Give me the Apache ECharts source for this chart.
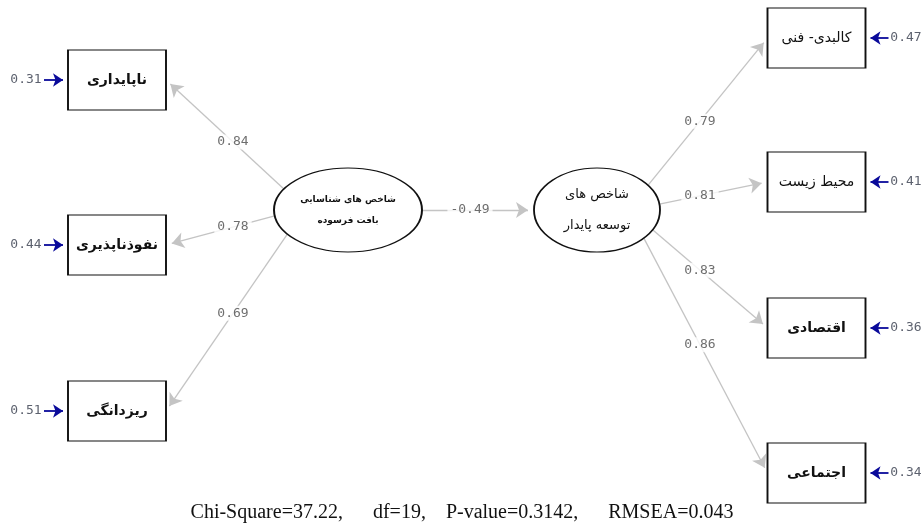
<!DOCTYPE html>
<html><head><meta charset="utf-8">
<script src="https://cdn.jsdelivr.net/npm/echarts@6/dist/echarts.min.js"></script>
<style>html,body{margin:0;padding:0;background:#fff}#c{width:924px;height:524px}</style>
</head><body><div id="c"></div>
<script>
// ---------- data ----------
const latentNames = ['شاخص های شناسایی\nبافت فرسوده', 'شاخص های\nتوسعه پایدار'];
const leftIndicators = ['ناپایداری', 'نفوذناپذیری', 'ریزدانگی'];
const leftLoadings = [0.84, 0.78, 0.69];
const leftErrors = [0.31, 0.44, 0.51];
const rightIndicators = ['کالبدی- فنی', 'محیط زیست', 'اقتصادی', 'اجتماعی'];
const rightLoadings = [0.79, 0.81, 0.83, 0.86];
const rightErrors = [0.47, 0.41, 0.36, 0.34];
const pathCoefficient = -0.49;
const fitText = 'Chi-Square=37.22,      df=19,    P-value=0.3142,      RMSEA=0.043';

// ---------- layout (diagram geometry, not data) ----------
const latentLayout = [
  { cx: 348, cy: 210, rx: 74, ry: 42, fontSize: 9, lineHeight: 21, pad: [0, 0, 0, 0] },
  { cx: 597, cy: 210, rx: 63, ry: 42, fontSize: 13, lineHeight: 31, pad: [5, 0, 0, 0] }
];
const boxW = 98, boxH = 60;
const leftLayout = { x: 117, ys: [80, 245, 411], angles: [210, 172, 145], labelX: 233, bold: [true, true, true], errX: 26 };
const rightLayout = { x: 816.5, ys: [38, 182, 328, 473], angles: [-36, -8, 28, 42], labelX: 700, bold: [false, false, true, true], errX: 906 };
const pathArrowSize = 12, errArrowSize = 10;

function ellipsePt(L, deg) {
  const a = deg * Math.PI / 180;
  return [L.cx + L.rx * Math.cos(a), L.cy + L.ry * Math.sin(a)];
}
function shorten(s, e, d) {
  const dx = e[0] - s[0], dy = e[1] - s[1], len = Math.hypot(dx, dy);
  return [e[0] - dx / len * d, e[1] - dy / len * d];
}
function atX(s, e, x) {
  const t = (x - s[0]) / (e[0] - s[0]);
  return [x, s[1] + t * (e[1] - s[1])];
}

const pathLines = [], coefLabels = [], errLines = [], errLabels = [], boxes = [];

function addSide(names, loads, errs, lay, side) {
  names.forEach((n, i) => {
    const y = lay.ys[i];
    const edgeX = side === 'L' ? lay.x + boxW / 2 : lay.x - boxW / 2;
    const s = ellipsePt(side === 'L' ? latentLayout[0] : latentLayout[1], lay.angles[i]);
    const e = [edgeX, y];
    pathLines.push({ coords: [s, shorten(s, e, pathArrowSize / 2)] });
    const lp = atX(s, e, lay.labelX);
    coefLabels.push([lp[0], lp[1], loads[i]]);
    boxes.push({ value: [lay.x, y], name: n, label: { fontWeight: lay.bold[i] ? 'bold' : 'normal' } });
    const outer = side === 'L' ? lay.x - boxW / 2 : lay.x + boxW / 2;
    const from = side === 'L' ? [outer - 24, y] : [outer + 23, y];
    const to = [outer, y];
    errLines.push({ coords: [from, shorten(from, to, errArrowSize / 2)] });
    errLabels.push([lay.errX, y, errs[i]]);
  });
}
addSide(leftIndicators, leftLoadings, leftErrors, leftLayout, 'L');
addSide(rightIndicators, rightLoadings, rightErrors, rightLayout, 'R');

const ps = ellipsePt(latentLayout[0], 0), pe = ellipsePt(latentLayout[1], 180);
pathLines.push({ coords: [ps, shorten(ps, pe, pathArrowSize / 2)] });
coefLabels.push([470, atX(ps, pe, 470)[1], pathCoefficient]);

const latents = latentNames.map((n, i) => ({
  value: [latentLayout[i].cx, latentLayout[i].cy], name: n,
  symbolSize: [latentLayout[i].rx * 2, latentLayout[i].ry * 2],
  label: { fontSize: latentLayout[i].fontSize, lineHeight: latentLayout[i].lineHeight, padding: latentLayout[i].pad, fontWeight: i === 0 ? 'bold' : 'normal' }
}));

const chart = echarts.init(document.getElementById('c'), null, { renderer: 'canvas' });
chart.setOption({
  animation: false,
  backgroundColor: '#fff',
  title: {
    text: fitText, left: 'center', top: 498,
    textStyle: { fontFamily: 'Liberation Serif', fontSize: 20, fontWeight: 'normal', color: '#111' }
  },
  grid: { left: 0, right: 0, top: 0, bottom: 0 },
  xAxis: { type: 'value', min: 0, max: 924, show: false },
  yAxis: { type: 'value', min: 0, max: 524, inverse: true, show: false },
  series: [
    {
      type: 'lines', coordinateSystem: 'cartesian2d', z: 1,
      symbol: ['none', 'arrow'], symbolSize: pathArrowSize,
      lineStyle: { color: '#c4c4c4', width: 1.3, opacity: 1, curveness: 0 },
      data: pathLines
    },
    {
      type: 'lines', coordinateSystem: 'cartesian2d', z: 1,
      symbol: ['none', 'arrow'], symbolSize: errArrowSize,
      lineStyle: { color: '#0a0a9a', width: 1.8, opacity: 1, curveness: 0 },
      data: errLines
    },
    {
      type: 'scatter', z: 3, symbol: 'rect', symbolSize: [boxW, boxH],
      itemStyle: { color: '#fff', borderColor: '#111', borderWidth: 1.5, opacity: 1 },
      label: { show: true, position: 'inside', formatter: p => p.name, fontFamily: 'DejaVu Sans', fontSize: 14, color: '#111' },
      data: boxes
    },
    {
      type: 'scatter', z: 3,
      symbol: 'path://M0,50 A100,50 0 1,1 200,50 A100,50 0 1,1 0,50 Z',
      itemStyle: { color: '#fff', borderColor: '#111', borderWidth: 1.5, opacity: 1 },
      label: { show: true, position: 'inside', formatter: p => p.name, fontFamily: 'DejaVu Sans', color: '#111' },
      data: latents
    },
    {
      type: 'scatter', z: 4, symbolSize: 1, itemStyle: { color: 'rgba(0,0,0,0)' },
      label: {
        show: true, position: 'inside', formatter: p => p.value[2].toFixed(2),
        fontFamily: 'DejaVu Sans Mono', fontSize: 13, color: '#4a4a4a', backgroundColor: '#fff', padding: [1, 3]
      },
      data: coefLabels
    },
    {
      type: 'scatter', z: 4, symbolSize: 1, itemStyle: { color: 'rgba(0,0,0,0)' },
      label: {
        show: true, position: 'inside', formatter: p => p.value[2].toFixed(2),
        fontFamily: 'DejaVu Sans Mono', fontSize: 13, color: '#333a4a'
      },
      data: errLabels
    }
  ]
});
</script></body></html>
